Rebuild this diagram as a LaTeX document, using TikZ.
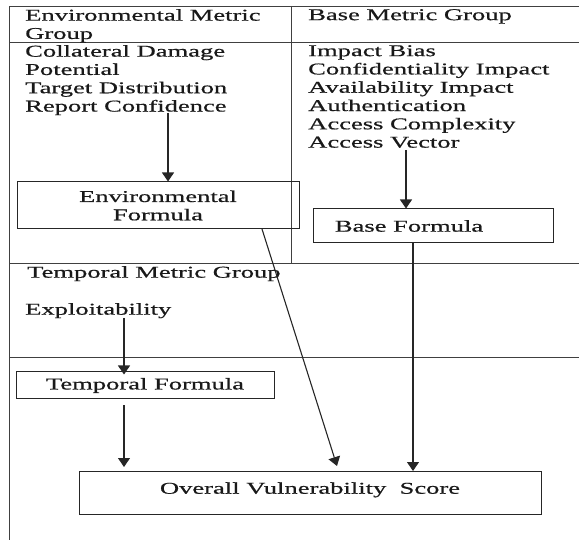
\documentclass[tikz,border=0pt]{standalone}
\usepackage{fontspec}
\setmainfont{Liberation Serif}[FakeStretch=1.61,FakeBold=0.6]
\usetikzlibrary{arrows.meta}
\begin{document}
\begin{tikzpicture}[x=1pt,y=-1pt,
  rule/.style={draw=black!75,line width=0.9pt},
  box/.style={draw=black!85,line width=1pt,inner sep=0pt},
  txt/.style={inner sep=0pt,align=left,text=black!90,font=\fontsize{16.5}{18.3}\selectfont},
  flow/.style={draw=black!85,line width=1.1pt,-{Triangle[length=9pt,width=12pt]}}]
\useasboundingbox (0,0) rectangle (579,540);

% table rules
\draw[rule] (579,6) -- (9,6) -- (9,540);
\draw[rule] (9,42) -- (579,42);
\draw[rule] (291,6) -- (291,263);
\draw[rule] (9,263) -- (579,263);
\draw[rule] (9,357) -- (579,357);

% group headings and metric lists
\node[txt,anchor=north west] (envhead) at (25,9) {Environmental Metric\\Group};
\node[txt,anchor=north west] (envlist) at (25,45) {Collateral Damage\\Potential\\Target Distribution\\Report Confidence};
\node[txt,anchor=north west] (basehead) at (308,9) {Base Metric Group};
\node[txt,anchor=north west] (baselist) at (308,45) {Impact Bias\\Confidentiality Impact\\Availability Impact\\Authentication\\Access Complexity\\Access Vector};
\node[txt,anchor=north west] (temphead) at (27,266) {Temporal Metric Group};
\node[txt,anchor=north west] (expl) at (25,303) {Exploitability};

% formula boxes
\node[box,minimum width=282pt,minimum height=47pt,txt,align=center] (envf) at (158,205.5) {Environmental\\Formula};
\node[box,minimum width=240pt,minimum height=34pt,txt] (basef) at (433,226) {Base Formula\hspace*{48pt}};
\node[box,minimum width=258pt,minimum height=27pt,txt] (tempf) at (145,385.5) {Temporal Formula};
\node[box,minimum width=462pt,minimum height=43pt,txt] (overall) at (310,492.5) {\raisebox{9pt}{Overall Vulnerability\ \ Score}};

% connectors
\coordinate (envsrc) at (168,113);
\coordinate (basesrc) at (406,150);
\coordinate (explsrc) at (124,318);
\draw[flow] (envsrc) -- (envsrc |- envf.north);
\draw[flow] (basesrc) -- (basesrc |- basef.north);
\draw[flow] (explsrc) -- ([yshift=-3pt]explsrc |- tempf.north);
\draw[flow] (413,243) -- (413,471);
\draw[flow] (124,399) ++(0,6) -- (124,467);
\draw[flow] (262,229) -- (337,466);
\end{tikzpicture}
\end{document}
